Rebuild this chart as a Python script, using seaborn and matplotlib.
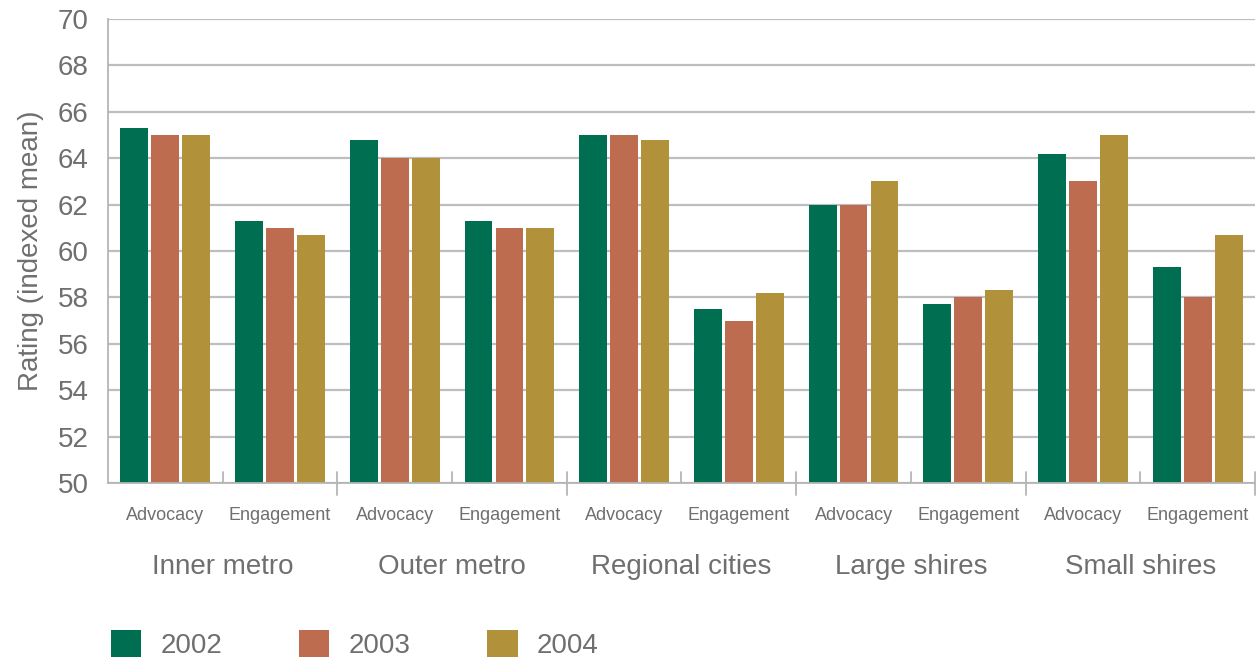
import matplotlib
matplotlib.use("Agg")
import matplotlib.pyplot as plt
import matplotlib.transforms as mtransforms
from matplotlib.patches import Patch
import seaborn as sns
import pandas as pd

# Council groups, measures and survey years
groups = ["Inner metro", "Outer metro", "Regional cities", "Large shires", "Small shires"]
measures = ["Advocacy", "Engagement"]
years = ["2002", "2003", "2004"]

# Indexed mean ratings, one list per year, ordered group by group (Advocacy, Engagement)
ratings_2002 = [65.3, 61.3, 64.8, 61.3, 65.0, 57.5, 62.0, 57.7, 64.2, 59.3]
ratings_2003 = [65.0, 61.0, 64.0, 61.0, 65.0, 57.0, 62.0, 58.0, 63.0, 58.0]
ratings_2004 = [65.0, 60.7, 64.0, 61.0, 64.8, 58.2, 63.0, 58.3, 65.0, 60.7]

y_ticks = [50, 52, 54, 56, 58, 60, 62, 64, 66, 68, 70]

colors = ["#006F51", "#BE6C4F", "#B1923A"]
text_color = "#6F6F6F"
grid_color = "#BDBDC2"

slots = [f"{g}|{m}" for g in groups for m in measures]
rows = []
for year, vals in zip(years, [ratings_2002, ratings_2003, ratings_2004]):
    for slot, v in zip(slots, vals):
        rows.append({"slot": slot, "year": year, "rating": v})
df = pd.DataFrame(rows)

sns.set_theme(style="white")
plt.rcParams["font.family"] = ["Liberation Sans", "DejaVu Sans"]

fig = plt.figure(figsize=(12.59, 6.57), dpi=100)
ax = fig.add_axes([0.0858, 0.2648, 0.911, 0.7062])

sns.barplot(data=df, x="slot", y="rating", hue="year", order=slots,
            hue_order=years, palette=colors, width=0.81, gap=0.1,
            saturation=1, legend=False, ax=ax, bottom=0, linewidth=0)

ax.set_ylim(50, 70)
ax.set_xlim(-0.5, len(slots) - 0.5)
ax.set_yticks(y_ticks)
ax.set_yticklabels([str(t) for t in y_ticks], fontsize=20, color=text_color)
ax.yaxis.grid(True, color=grid_color, linewidth=1.6)
ax.set_axisbelow(True)
ax.tick_params(axis="y", length=0, pad=14)
ax.set_ylabel("Rating (indexed mean)", fontsize=20, color=text_color, labelpad=10)
ax.set_xlabel("")

# Measure labels under each slot
ax.set_xticks(range(len(slots)))
ax.set_xticklabels([s.split("|")[1] for s in slots], fontsize=13, color=text_color)
ax.tick_params(axis="x", length=0, pad=17)

for side in ["top", "right"]:
    ax.spines[side].set_visible(False)
for side in ["left", "bottom"]:
    ax.spines[side].set_color("#B5B5B5")
    ax.spines[side].set_linewidth(1.3)

# Separator ticks: short between measures, long between groups
trans = mtransforms.blended_transform_factory(ax.transData, ax.transAxes)
for i in range(len(groups)):
    mid = 2 * i + 0.5
    ax.plot([mid, mid], [0, 0.024], transform=trans, color="#B5B5B5",
            linewidth=1.3, clip_on=False)
for i in range(1, len(groups) + 1):
    edge = 2 * i - 0.5
    ax.plot([edge, edge], [-0.026, 0.024], transform=trans, color="#B5B5B5",
            linewidth=1.3, clip_on=False)

# Group names
for i, g in enumerate(groups):
    ax.text(2 * i + 0.5, -0.18, g, transform=trans, ha="center", va="center",
            fontsize=20, color=text_color)

# Legend
handles = [Patch(facecolor=c, edgecolor="none") for c in colors]
fig.legend(handles, years, loc="lower left", bbox_to_anchor=(0.079, -0.02),
           ncol=3, frameon=False, fontsize=20, labelcolor=text_color,
           handlelength=1.1, handleheight=1.1, handletextpad=0.7,
           columnspacing=2.75, borderaxespad=0)

fig.savefig("out.png", dpi=100)
